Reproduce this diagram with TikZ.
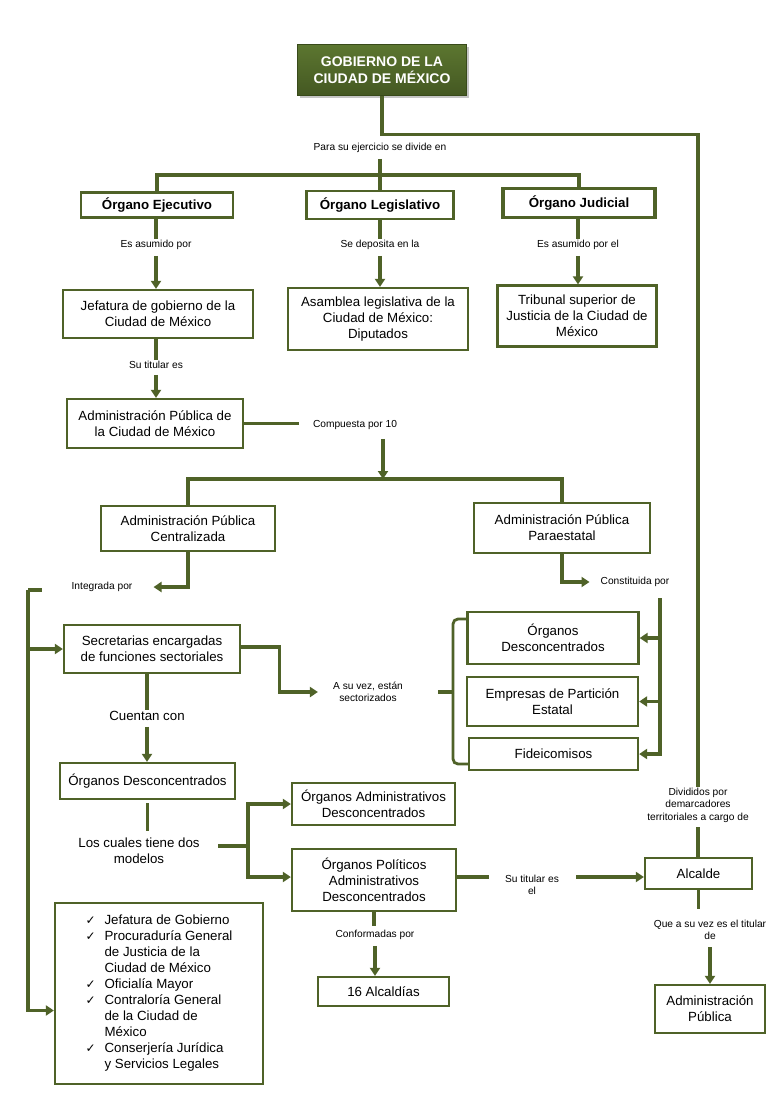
\documentclass[tikz,border=0pt]{standalone}
\usepackage{fontspec}
\setmainfont{Liberation Sans}
\newfontfamily\symfont{DejaVu Sans}
\usetikzlibrary{arrows.meta}
\usetikzlibrary{positioning}
\usetikzlibrary{shadows}
\definecolor{ogreen}{RGB}{79,98,40}
\definecolor{otop}{RGB}{92,118,48}
\definecolor{obot}{RGB}{68,88,34}
\definecolor{oedge}{RGB}{56,74,26}
\newcommand{\boxfont}{\fontsize{13.3}{16}\selectfont}
\newcommand{\lblfont}{\fontsize{10.2}{12.5}\selectfont}
\newcommand{\chk}{{\symfont\fontsize{12}{16}\selectfont ✓}}
\begin{document}
\begin{tikzpicture}[line join=miter,>={Triangle[length=8pt,width=10pt]},x=1pt,y=-1pt,
  box/.style={draw=ogreen,line width=2.3pt,fill=white,align=center,font=\boxfont,inner sep=1pt},
  hbox/.style={box,font=\boxfont\bfseries},
  lbl/.style={align=center,font=\lblfont,inner sep=1pt},
  biglbl/.style={lbl,font=\boxfont},
  link/.style={draw=ogreen,line width=3.1pt},
  bracket/.style={draw=ogreen,line width=2.8pt,rounded corners=5pt},
  titlebox/.style={draw=oedge,line width=1.5pt,top color=otop,bottom color=obot,text=white,
    font=\fontsize{14}{17}\selectfont\bfseries,align=center,
    drop shadow={opacity=0.45,shadow xshift=2pt,shadow yshift=-2pt}}]
\fill[white] (0,0) rectangle (776,1098);
\useasboundingbox (0,0) rectangle (776,1098);

% top
\node[titlebox,minimum width=169,minimum height=51] (gob) at (382,70) {GOBIERNO DE LA\\CIUDAD DE MÉXICO};
\node[lbl] (para) at (380,148) {Para su ejercicio se divide en};
\node[hbox,minimum width=152,minimum height=25] (ejec) at (157,205) {Órgano Ejecutivo};
\node[hbox,minimum width=147,minimum height=28] (legis) at (380,205) {Órgano Legislativo};
\node[hbox,line width=3.2pt,minimum width=152,minimum height=29] (jud) at (579,203) {Órgano Judicial};
\node[lbl] (easum1) at (156,245) {Es asumido por};
\node[lbl] (depos) at (380,245) {Se deposita en la};
\node[lbl] (easum2) at (578,245) {Es asumido por el};
\node[box,minimum width=190,minimum height=48] (jefa) at (158,314) {Jefatura de gobierno de la\\Ciudad de México};
\node[box,minimum width=180,minimum height=62] (asamb) at (378,319) {Asamblea legislativa de la\\Ciudad de México:\\Diputados};
\node[box,minimum width=159,minimum height=61] (trib) at (577,316) {Tribunal superior de\\Justicia de la Ciudad de\\México};
\node[lbl] (tit1) at (156,365) {Su titular es};
\node[box,minimum width=176,minimum height=49] (apcdmx) at (155,423.5) {Administración Pública de\\la Ciudad de México};
\node[lbl] (comp) at (355,425) {Compuesta por 10};

% administracion
\node[box,minimum width=174,minimum height=45] (cent) at (188,528.5) {Administración Pública\\Centralizada};
\node[box,minimum width=176,minimum height=50] (paraest) at (562,528) {Administración Pública\\Paraestatal};
\node[lbl] (integ) at (102,587) {Integrada por};
\node[lbl] (const) at (635,582) {Constituida por};
\node[box,minimum width=176,minimum height=48] (secret) at (152,649) {Secretarias encargadas\\de funciones sectoriales};
\node[lbl] (sect) at (368,692) {A su vez, están\\sectorizados};
\node[box,minimum width=171,minimum height=52] (odesc) at (553,638) {Órganos\\Desconcentrados};
\node[box,minimum width=171,minimum height=49] (empr) at (552.5,701.5) {Empresas de Partición\\Estatal};
\node[box,minimum width=169,minimum height=32] (fide) at (553.5,754) {Fideicomisos};
\node[biglbl] (cuent) at (147,716) {Cuentan con};
\node[box,minimum width=175,minimum height=36] (odes2) at (147.5,781) {Órganos Desconcentrados};
\node[biglbl] (cuales) at (139,851) {Los cuales tiene dos\\modelos};
\node[box,minimum width=163,minimum height=42] (oadm) at (373.5,804) {Órganos Administrativos\\Desconcentrados};
\node[box,minimum width=164,minimum height=62] (opol) at (374,880) {Órganos Políticos\\Administrativos\\Desconcentrados};
\node[lbl] (tit2) at (532,885) {Su titular es\\el};
\node[lbl] (conf) at (375,935) {Conformadas por};
\node[box,minimum width=131,minimum height=29] (alc16) at (383.5,991.5) {16 Alcaldías};

% derecha
\node[lbl] (divid) at (698,805) {Divididos por\\demarcadores\\territoriales a cargo de};
\node[box,minimum width=107,minimum height=31] (alc) at (698.5,873.5) {Alcalde};
\node[lbl] (que) at (710,930) {Que a su vez es el titular\\de};
\node[box,minimum width=110,minimum height=48] (admp) at (710,1009) {Administración\\Pública};

% lista
\node[box,minimum width=208,minimum height=181] (lista) at (159,993.5) {%
  \begin{tabular}{@{}p{19pt}@{}l@{}}
  \chk & Jefatura de Gobierno\\
  \chk & Procuraduría General\\
       & de Justicia de la\\
       & Ciudad de México\\
  \chk & Oficialía Mayor\\
  \chk & Contraloría General\\
       & de la Ciudad de\\
       & México\\
  \chk & Conserjería Jurídica\\
       & y Servicios Legales
  \end{tabular}};

% conectores
\coordinate (split) at (380,175);
\coordinate (split2) at (383,479);
\coordinate (lcorner) at (28,590);
\coordinate (ctop) at (660,598);
\coordinate (fork) at (248,846);
\coordinate (btop) at (468,619);
\coordinate (bbot) at (469,764);
\coordinate (btip) at (453,692);
\coordinate (tity) at (0,877);

\draw[link] (gob.south) -- ++(0,38) -| (divid.north);
\draw[link,shorten <=5pt] (para.south) -- (split);
\draw[link] (ejec.north) |- (split) -| (jud.north);
\draw[link] (split) -- (legis.north);

\draw[link] (easum1.north |- ejec.south) -- (easum1.north);
\draw[link,->,shorten <=5pt] (easum1.south) -- (easum1.south |- jefa.north);
\draw[link] (depos.north |- legis.south) -- (depos.north);
\draw[link,->,shorten <=5pt] (depos.south) -- (depos.south |- asamb.north);
\draw[link] (easum2.north |- jud.south) -- (easum2.north);
\draw[link,->,shorten <=5pt] (easum2.south) -- (easum2.south |- trib.north);

\draw[link] (tit1.north |- jefa.south) -- (tit1.north);
\draw[link,->,shorten <=5pt] (tit1.south) -- (tit1.south |- apcdmx.north);
\draw[link,shorten >=13pt] (apcdmx.east) -- (apcdmx.east -| comp.west);
\draw[link,->,shorten <=8pt] (comp.south -| split2) -- (split2);
\draw[link] (cent.north) |- (split2) -| (paraest.north);

\draw[link,->,shorten >=20pt] (cent.south) |- (integ.east);
\draw[link,->,shorten >=10pt] (paraest.south) |- (const.west);

\draw[link] (lcorner) -- ++(14,0);
\draw[link,->] (lcorner) |- ([yshift=-17pt]lista.west);
\draw[link,->] (lcorner |- secret.west) -- (secret.west);

\draw[link,->,shorten >=14pt] ([yshift=2pt]secret.east) -- ++(38,0) |- (sect.west);
\draw[bracket] (btop) -| (btip) |- (bbot);
\draw[link] ([xshift=1pt]btip) -- ++(-16,0);

\draw[link,->] (ctop) |- (fide.east);
\draw[link,->] (ctop |- odesc.east) -- (odesc.east);
\draw[link,->] (ctop |- empr.east) -- (empr.east);

\draw[link] (cuent.north |- secret.south) -- (cuent.north);
\draw[link,->,shorten <=5pt] (cuent.south) -- (cuent.south |- odes2.north);
\draw[link,shorten <=3pt,shorten >=6pt] (odes2.south) -- (odes2.south |- cuales.north);
\draw[link] (fork) -- ++(-30,0);
\draw[link,->] (fork) |- (oadm.west);
\draw[link,->] (fork) |- (opol.west |- tity);

\draw[link,shorten >=15pt] (opol.east |- tity) -- (tit2.west |- tity);
\draw[link,->,shorten <=16pt] (tit2.east |- tity) -- (alc.west |- tity);
\draw[link,shorten <=4pt] (divid.south) -- (divid.south |- alc.north);
\draw[link,shorten >=10pt] (alc.south) -- (alc.south |- que.north);
\draw[link,->,shorten <=6pt] (que.south) -- (que.south |- admp.north);

\draw[link,shorten >=3pt] (opol.south) -- (opol.south |- conf.north);
\draw[link,->,shorten <=5pt] (conf.south) -- (conf.south |- alc16.north);
\end{tikzpicture}
\end{document}
